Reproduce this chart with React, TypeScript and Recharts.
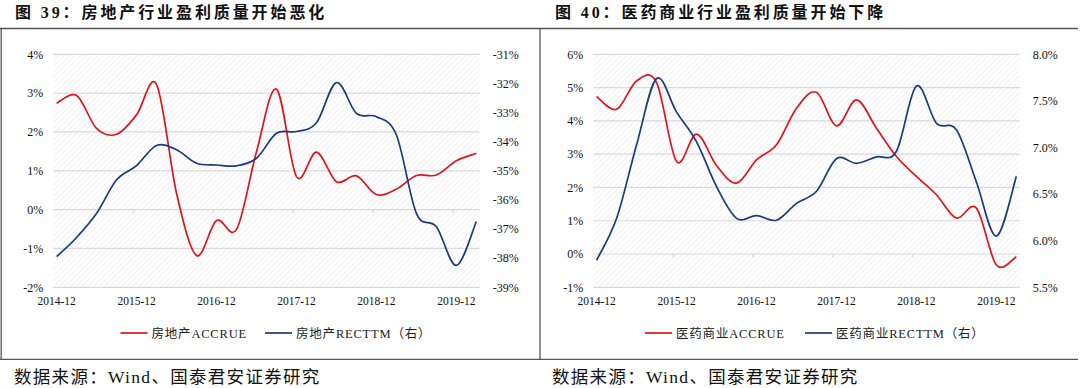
import React from "react";
import {
  LineChart,
  Line,
  XAxis,
  YAxis,
  CartesianGrid,
  ReferenceLine,
} from "recharts";

// quarterly observations, plotted on a monthly date axis
const quarters = [
  "2014-12", "2015-03", "2015-06", "2015-09", "2015-12", "2016-03",
  "2016-06", "2016-09", "2016-12", "2017-03", "2017-06", "2017-09",
  "2017-12", "2018-03", "2018-06", "2018-09", "2018-12", "2019-03",
  "2019-06", "2019-09", "2019-12", "2020-03",
];
const tickLabels = ["2014-12", "2015-12", "2016-12", "2017-12", "2018-12", "2019-12"];

// 房地产
const reAccrue = [
  2.74, 2.94, 2.09, 1.94, 2.44, 3.22, 0.42, -1.18, -0.28, -0.51, 1.49,
  3.1, 0.85, 1.48, 0.72, 0.87, 0.39, 0.53, 0.88, 0.89, 1.26, 1.45,
];
const reRecttm = [
  -37.95, -37.29, -36.46, -35.31, -34.82, -34.13, -34.28, -34.74, -34.8,
  -34.83, -34.57, -33.71, -33.65, -33.35, -31.97, -33.03, -33.14, -33.77,
  -36.46, -36.92, -38.25, -36.74,
];

// 医药商业
const phAccrue = [
  4.73, 4.35, 5.2, 5.15, 2.78, 3.6, 2.66, 2.13, 2.83, 3.28, 4.38, 4.86,
  3.85, 4.63, 3.78, 2.93, 2.33, 1.78, 1.08, 1.38, -0.33, -0.08,
];
const phRecttm = [
  5.79, 6.24, 7.03, 7.74, 7.38, 7.06, 6.58, 6.24, 6.27, 6.22, 6.4, 6.53,
  6.88, 6.83, 6.9, 6.96, 7.66, 7.26, 7.19, 6.63, 6.05, 6.69,
];

const RED = "#e0141c";
const BLUE = "#1d3a7c";
const SERIF = "'Liberation Serif', 'Noto Sans CJK SC', serif";
const FRAME = "#555";

const monthIndex = (d: string) => {
  const [y, m] = d.split("-").map(Number);
  return (y - 2014) * 12 + (m - 12);
};

// Excel-style smoothing (Catmull-Rom through every point)
function excelSmooth(context: any) {
  let pts: number[][] = [];
  return {
    areaStart() {},
    areaEnd() {},
    lineStart() {
      pts = [];
    },
    point(x: number, y: number) {
      pts.push([+x, +y]);
    },
    lineEnd() {
      if (!pts.length) return;
      context.moveTo(pts[0][0], pts[0][1]);
      for (let i = 0; i < pts.length - 1; i++) {
        const p0 = pts[i - 1] || pts[i];
        const p1 = pts[i];
        const p2 = pts[i + 1];
        const p3 = pts[i + 2] || p2;
        context.bezierCurveTo(
          p1[0] + (p2[0] - p0[0]) / 6,
          p1[1] + (p2[1] - p0[1]) / 6,
          p2[0] - (p3[0] - p1[0]) / 6,
          p2[1] - (p3[1] - p1[1]) / 6,
          p2[0],
          p2[1]
        );
      }
    },
  };
}

interface PanelProps {
  id: string;
  left: number;
  accrue: number[];
  recttm: number[];
  leftDomain: [number, number];
  leftTicks: number[];
  rightDomain: [number, number];
  rightTicks: number[];
  rightDigits: number;
  tickDrop: number;
}

function Panel({
  id,
  left,
  accrue,
  recttm,
  leftDomain,
  leftTicks,
  rightDomain,
  rightTicks,
  rightDigits,
  tickDrop,
}: PanelProps) {
  const data = quarters.map((q, i) => ({
    m: monthIndex(q),
    a: accrue[i],
    b: recttm[i],
  }));
  const majorTicks = tickLabels.map((_, i) => i * 12);
  const boundaries = majorTicks.slice(1).map((t) => t - 0.5);

  return (
    <div style={{ position: "absolute", left, top: 0 }}>
      <LineChart
        width={540}
        height={360}
        data={data}
        margin={{ top: 54.3, left: 13.3, right: 10.3, bottom: 42.7 }}
      >
        <defs>
          <pattern
            id={`hatch-${id}`}
            width="4"
            height="4"
            patternUnits="userSpaceOnUse"
            patternTransform="rotate(45)"
          >
            <rect width="4" height="4" fill="#ffffff" />
            <line x1="0" y1="0" x2="0" y2="4" stroke="#ebebeb" strokeWidth="1.4" />
          </pattern>
        </defs>
        <CartesianGrid
          yAxisId="l"
          vertical={false}
          stroke="#d9d9d9"
          strokeWidth={1.2}
          fill={`url(#hatch-${id})`}
          fillOpacity={1}
        />
        <XAxis
          dataKey="m"
          type="number"
          domain={[-0.5, 63.5]}
          ticks={majorTicks}
          tickFormatter={(v: number) => tickLabels[Math.round(v / 12)]}
          axisLine={false}
          tickLine={false}
          tickSize={0}
          tickMargin={10}
          height={30}
          interval={0}
          tick={{ fontSize: 11.5, fill: "#111", fontFamily: SERIF }}
        />
        <YAxis
          yAxisId="l"
          domain={leftDomain}
          ticks={leftTicks}
          interval={0}
          tickFormatter={(v: number) => `${v}%`}
          axisLine={false}
          tickLine={false}
          tickSize={0}
          tickMargin={10}
          width={40}
          tick={{ fontSize: 12, fill: "#111", fontFamily: SERIF }}
        />
        <YAxis
          yAxisId="r"
          orientation="right"
          domain={rightDomain}
          ticks={rightTicks}
          interval={0}
          tickFormatter={(v: number) => `${v.toFixed(rightDigits)}%`}
          axisLine={false}
          tickLine={false}
          tickSize={0}
          tickMargin={13}
          width={50}
          tick={{ fontSize: 12, fill: "#111", fontFamily: SERIF, textAnchor: "start" }}
        />
        {boundaries.map((b) => (
          <ReferenceLine
            key={b}
            yAxisId="l"
            segment={[
              { x: b, y: 0 },
              { x: b, y: -tickDrop },
            ]}
            stroke="#d0d0d0"
            strokeWidth={1}
          />
        ))}
        <Line
          yAxisId="l"
          dataKey="a"
          type={excelSmooth as any}
          stroke={RED}
          strokeWidth={1.7}
          dot={false}
          activeDot={false}
          isAnimationActive={false}
        />
        <Line
          yAxisId="r"
          dataKey="b"
          type={excelSmooth as any}
          stroke={BLUE}
          strokeWidth={1.7}
          dot={false}
          activeDot={false}
          isAnimationActive={false}
        />
      </LineChart>
    </div>
  );
}

function LegendItem({ x, color, label }: { x: number; color: string; label: string }) {
  return (
    <g>
      <line x1={x} y1={333} x2={x + 27} y2={333} stroke={color} strokeWidth={1.7} />
      <text x={x + 31} y={337.5} fontSize={12.5} fontFamily={SERIF} letterSpacing={0.8} fill="#222">
        {label}
      </text>
    </g>
  );
}

export default function App() {
  return (
    <div
      style={{
        position: "absolute",
        left: 0,
        top: 0,
        width: 1080,
        height: 388,
        background: "#fff",
        overflow: "hidden",
      }}
    >
      <svg
        width={1080}
        height={388}
        style={{ position: "absolute", left: 0, top: 0 }}
      >
        <line x1={0} y1={28.5} x2={1078} y2={28.5} stroke={FRAME} strokeWidth={1.3} />
        <line x1={0} y1={359.3} x2={1078} y2={359.3} stroke={FRAME} strokeWidth={1.3} />
        <line x1={1.2} y1={28.5} x2={1.2} y2={359.3} stroke={FRAME} strokeWidth={1.3} />
        <line x1={540} y1={28.5} x2={540} y2={359.3} stroke={FRAME} strokeWidth={1.3} />

        <text x={15} y={18} fontSize={16} fontWeight={700} fontFamily={SERIF} letterSpacing={2.9} fill="#111">
          图 39：房地产行业盈利质量开始恶化
        </text>
        <text x={555} y={18} fontSize={16} fontWeight={700} fontFamily={SERIF} letterSpacing={2.9} fill="#111">
          图 40：医药商业行业盈利质量开始下降
        </text>

        <LegendItem x={120.5} color={RED} label="房地产ACCRUE" />
        <LegendItem x={265} color={BLUE} label="房地产RECTTM（右）" />
        <LegendItem x={645} color={RED} label="医药商业ACCRUE" />
        <LegendItem x={805} color={BLUE} label="医药商业RECTTM（右）" />

        <text x={14} y={383} fontSize={17.5} fontFamily={SERIF} letterSpacing={1.3} fill="#111">
          数据来源：Wind、国泰君安证券研究
        </text>
        <text x={552} y={383} fontSize={17.5} fontFamily={SERIF} letterSpacing={1.3} fill="#111">
          数据来源：Wind、国泰君安证券研究
        </text>
      </svg>

      <Panel
        id="re"
        left={0}
        accrue={reAccrue}
        recttm={reRecttm}
        leftDomain={[-2, 4]}
        leftTicks={[-2, -1, 0, 1, 2, 3, 4]}
        rightDomain={[-39, -31]}
        rightTicks={[-39, -38, -37, -36, -35, -34, -33, -32, -31]}
        rightDigits={0}
        tickDrop={0.09}
      />
      <Panel
        id="ph"
        left={540}
        accrue={phAccrue}
        recttm={phRecttm}
        leftDomain={[-1, 6]}
        leftTicks={[-1, 0, 1, 2, 3, 4, 5, 6]}
        rightDomain={[5.5, 8]}
        rightTicks={[5.5, 6, 6.5, 7, 7.5, 8]}
        rightDigits={1}
        tickDrop={0.1}
      />
    </div>
  );
}
